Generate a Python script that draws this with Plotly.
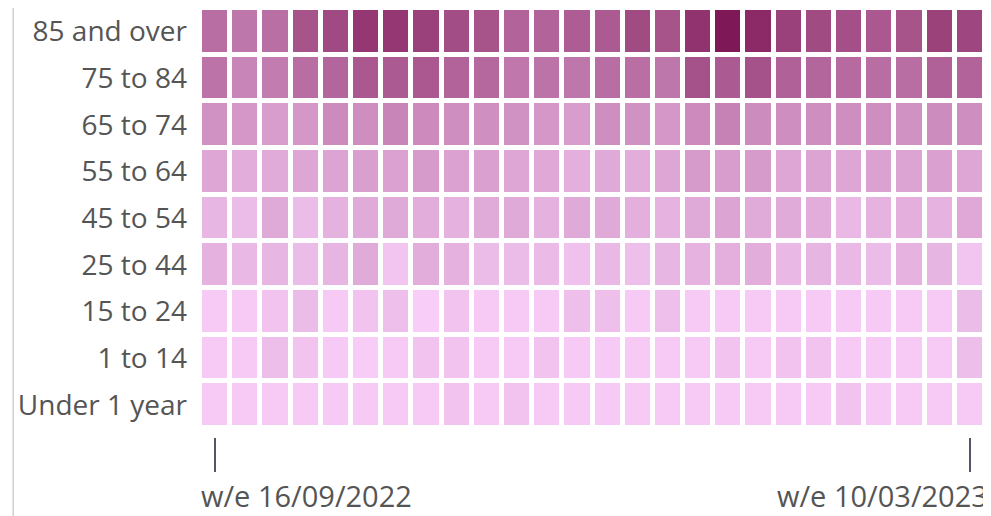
import plotly.graph_objects as go

age_groups = ["Under 1 year", "1 to 14", "15 to 24", "25 to 44", "45 to 54",
              "55 to 64", "65 to 74", "75 to 84", "85 and over"]

weeks = ["w/e 16/09/2022", "w/e 23/09/2022", "w/e 30/09/2022", "w/e 07/10/2022",
         "w/e 14/10/2022", "w/e 21/10/2022", "w/e 28/10/2022", "w/e 04/11/2022",
         "w/e 11/11/2022", "w/e 18/11/2022", "w/e 25/11/2022", "w/e 02/12/2022",
         "w/e 09/12/2022", "w/e 16/12/2022", "w/e 23/12/2022", "w/e 30/12/2022",
         "w/e 06/01/2023", "w/e 13/01/2023", "w/e 20/01/2023", "w/e 27/01/2023",
         "w/e 03/02/2023", "w/e 10/02/2023", "w/e 17/02/2023", "w/e 24/02/2023",
         "w/e 03/03/2023", "w/e 10/03/2023"]

# relative intensity (0-100) per age group, one value per week
under_1 = [2, 2, 2, 2, 2, 2, 2, 2, 6, 2, 6, 2, 2, 2, 2, 2, 2, 2, 2, 2, 2, 6, 2, 2, 2, 2]
age_1_14 = [2, 2, 9, 6, 2, 1, 2, 6, 6, 2, 2, 6, 2, 2, 2, 2, 2, 6, 2, 6, 6, 2, 2, 2, 2, 9]
age_15_24 = [2, 2, 6, 10, 2, 6, 8, 0, 6, 2, 2, 2, 8, 8, 2, 8, 2, 2, 2, 2, 2, 2, 2, 2, 2, 10]
age_25_44 = [16, 12, 13, 10, 14, 19, 5, 18, 16, 10, 10, 11, 7, 12, 8, 13, 15, 17, 18, 12, 14, 12, 10, 15, 14, 5]
age_45_54 = [13, 10, 20, 10, 16, 19, 20, 18, 16, 19, 20, 16, 20, 20, 17, 15, 20, 23, 19, 19, 18, 12, 15, 17, 15, 21]
age_55_64 = [22, 18, 19, 22, 23, 26, 24, 28, 24, 25, 22, 21, 17, 20, 18, 22, 28, 27, 28, 22, 23, 22, 24, 23, 25, 22]
age_65_74 = [33, 30, 27, 30, 37, 35, 40, 37, 35, 34, 33, 30, 27, 35, 33, 30, 37, 42, 36, 35, 35, 35, 35, 33, 36, 35]
age_75_84 = [50, 40, 45, 53, 57, 65, 63, 65, 58, 56, 47, 50, 48, 53, 52, 48, 68, 63, 68, 60, 57, 55, 53, 53, 60, 58]
age_85_over = [53, 48, 52, 67, 73, 83, 83, 78, 71, 67, 58, 58, 62, 63, 72, 67, 85, 100, 90, 78, 72, 70, 65, 67, 77, 75]

z = [under_1, age_1_14, age_15_24, age_25_44, age_45_54,
     age_55_64, age_65_74, age_75_84, age_85_over]

fig = go.Figure(go.Heatmap(
    z=z,
    x=list(range(len(weeks))),
    y=list(range(len(age_groups))),
    colorscale=[[0, "#f8cef8"], [0.5, "#bc73a7"], [1, "#7f1856"]],
    zmin=0, zmax=100,
    xgap=5, ygap=5,
    showscale=False,
    customdata=[[w for w in weeks] for _ in age_groups],
    hovertemplate="%{customdata}<br>%{z}<extra></extra>",
))

# page body has an 8px default margin, so the figure is 8px smaller
fig.update_layout(
    width=983, height=508,
    margin=dict(l=192, r=6, t=0, b=79, autoexpand=False),
    paper_bgcolor="white", plot_bgcolor="white",
    font=dict(family="Open Sans", color="#555555"),
    showlegend=False,
)

fig.update_xaxes(
    range=[-0.5, len(weeks) - 0.5],
    tickvals=[0, len(weeks) - 1],
    ticktext=["", ""],
    ticks="outside", ticklen=34, tickwidth=1.5, tickcolor="#555566",
    showgrid=False, zeroline=False, showline=False, automargin=False,
)
fig.update_yaxes(
    range=[-0.69, len(age_groups) - 0.5],
    tickvals=list(range(len(age_groups))),
    ticktext=age_groups,
    tickfont=dict(size=28, color="#555555"),
    ticks="", ticklabelstandoff=12,
    showgrid=False, zeroline=False, showline=False, automargin=False,
)

fig.add_annotation(x=0, y=0, xref="x", yref="paper", text=weeks[0],
                   showarrow=False, xanchor="left", yanchor="top",
                   xshift=-15, yshift=-38, borderpad=0,
                   font=dict(size=29, color="#555555"))
fig.add_annotation(x=len(weeks) - 1, y=0, xref="x", yref="paper", text=weeks[-1],
                   showarrow=False, xanchor="right", yanchor="top",
                   xshift=19, yshift=-38, borderpad=0,
                   font=dict(size=29, color="#555555"))

fig.add_shape(type="line", xref="paper", yref="paper",
              x0=-0.238, x1=-0.238, y0=-0.2, y1=1.03,
              line=dict(color="#d0d0d0", width=1.5))

fig.write_html("out.html")
